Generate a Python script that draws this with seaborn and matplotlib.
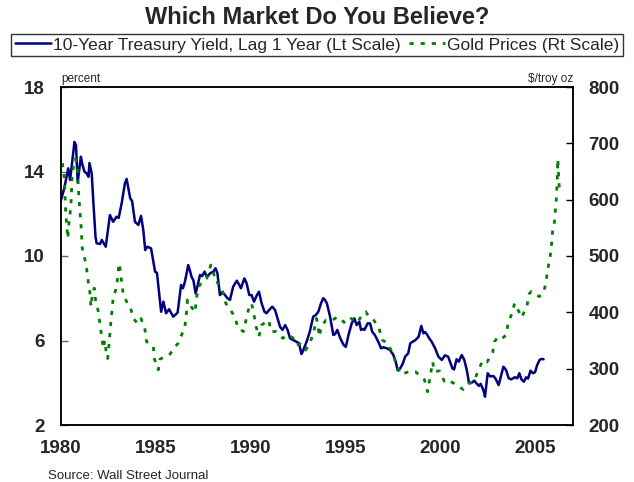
import numpy as np
import pandas as pd
import matplotlib
matplotlib.use('Agg')
import matplotlib.pyplot as plt
import seaborn as sns
from matplotlib.ticker import MultipleLocator

# 10-year treasury yield, lagged 1 year (percent, left scale)
yield_year = [
    1980.00, 1980.17, 1980.38, 1980.48, 1980.71, 1980.79, 1980.88, 1981.05, 1981.11, 1981.23,
    1981.36, 1981.45, 1981.50, 1981.62, 1981.70, 1981.82, 1981.88, 1982.06, 1982.15, 1982.36,
    1982.58, 1982.75, 1982.93, 1983.04, 1983.20, 1983.37, 1983.46, 1983.65, 1983.75, 1983.90,
    1984.08, 1984.22, 1984.34, 1984.44, 1984.56, 1984.75, 1984.96, 1985.06, 1985.28, 1985.40,
    1985.54, 1985.70, 1985.92, 1986.15, 1986.33, 1986.43, 1986.53, 1986.71, 1986.79, 1986.89,
    1986.98, 1987.10, 1987.19, 1987.33, 1987.44, 1987.57, 1987.70, 1987.86, 1988.03, 1988.15,
    1988.25, 1988.38, 1988.51, 1988.65, 1988.78, 1988.91, 1989.08, 1989.27, 1989.40, 1989.49,
    1989.67, 1989.79, 1989.93, 1990.05, 1990.18, 1990.33, 1990.44, 1990.58, 1990.73, 1990.84,
    1990.97, 1991.14, 1991.29, 1991.42, 1991.55, 1991.68, 1991.82, 1991.95, 1992.08, 1992.25,
    1992.42, 1992.55, 1992.68, 1992.75, 1992.95, 1993.12, 1993.30, 1993.43, 1993.57, 1993.71,
    1993.83, 1993.92, 1994.02, 1994.19, 1994.36, 1994.45, 1994.57, 1994.73, 1994.90, 1995.02,
    1995.16, 1995.33, 1995.47, 1995.59, 1995.73, 1995.82, 1995.94, 1996.00, 1996.17, 1996.30,
    1996.41, 1996.55, 1996.73, 1996.88, 1997.00, 1997.18, 1997.35, 1997.53, 1997.65, 1997.75,
    1997.89, 1998.03, 1998.15, 1998.31, 1998.42, 1998.54, 1998.69, 1998.86, 1999.00, 1999.11,
    1999.20, 1999.29, 1999.42, 1999.55, 1999.73, 1999.90, 2000.08, 2000.25, 2000.42, 2000.64,
    2000.73, 2000.86, 2000.98, 2001.13, 2001.26, 2001.40, 2001.52, 2001.66, 2001.79, 2001.91,
    2002.04, 2002.13, 2002.27, 2002.36, 2002.50, 2002.63, 2002.80, 2002.91, 2003.08, 2003.20,
    2003.33, 2003.47, 2003.61, 2003.74, 2003.93, 2004.06, 2004.17, 2004.28, 2004.41, 2004.53,
    2004.63, 2004.76, 2004.89, 2005.00, 2005.11, 2005.24, 2005.33, 2005.45,
]
yield_pct = [
    12.65, 13.20, 14.15, 13.60, 15.40, 15.25, 13.50, 14.70, 14.40, 14.00,
    13.90, 13.75, 14.40, 13.90, 12.65, 10.90, 10.60, 10.57, 10.76, 10.44,
    11.94, 11.62, 11.86, 11.80, 12.50, 13.44, 13.65, 12.73, 12.60, 11.62,
    11.47, 11.90, 11.23, 10.28, 10.44, 10.36, 9.26, 9.20, 7.36, 7.84,
    7.29, 7.48, 7.13, 7.32, 8.63, 8.47, 8.76, 9.57, 9.34, 9.00,
    8.86, 8.23, 8.55, 9.10, 9.05, 9.26, 9.00, 9.18, 9.26, 9.42,
    9.18, 8.15, 8.30, 8.15, 8.00, 7.92, 8.55, 8.83, 8.63, 8.47,
    8.94, 8.70, 8.15, 8.15, 7.84, 8.15, 8.31, 7.76, 7.36, 7.29,
    7.44, 7.60, 7.44, 7.05, 6.65, 6.50, 6.73, 6.50, 6.10, 6.02,
    5.94, 5.87, 5.36, 5.48, 5.94, 6.42, 7.13, 7.20, 7.36, 7.76,
    8.00, 7.92, 7.76, 7.13, 6.26, 6.30, 6.50, 6.10, 5.79, 5.70,
    6.26, 6.81, 7.05, 6.73, 6.89, 6.50, 6.55, 6.50, 6.81, 6.81,
    6.42, 6.26, 5.94, 5.63, 5.68, 5.63, 5.55, 5.31, 5.00, 4.60,
    4.68, 4.92, 5.24, 5.39, 5.87, 5.94, 6.02, 6.18, 6.69, 6.34,
    6.40, 6.30, 6.10, 5.94, 5.63, 5.24, 5.08, 5.30, 5.23, 4.68,
    4.63, 5.11, 5.00, 5.31, 5.10, 4.60, 3.97, 4.00, 4.10, 3.97,
    3.85, 3.95, 3.66, 3.34, 4.45, 4.30, 4.32, 4.20, 3.89, 4.30,
    4.76, 4.60, 4.21, 4.16, 4.26, 4.21, 4.45, 4.16, 4.05, 4.26,
    4.20, 4.57, 4.45, 4.50, 4.84, 5.08, 5.13, 5.11,
]

# gold price ($/troy oz, right scale)
gold_year = [
    1980.07, 1980.17, 1980.20, 1980.22, 1980.25, 1980.30, 1980.36, 1980.41, 1980.48, 1980.53,
    1980.58, 1980.65, 1980.77, 1980.88, 1980.91, 1980.95, 1981.00, 1981.05, 1981.09, 1981.12,
    1981.23, 1981.36, 1981.44, 1981.53, 1981.58, 1981.62, 1981.75, 1981.82, 1981.97, 1982.06,
    1982.15, 1982.23, 1982.31, 1982.41, 1982.46, 1982.53, 1982.58, 1982.63, 1982.70, 1982.75,
    1982.93, 1983.01, 1983.05, 1983.13, 1983.20, 1983.29, 1983.46, 1983.65, 1983.82, 1984.04,
    1984.22, 1984.43, 1984.51, 1984.87, 1984.92, 1985.13, 1985.22, 1985.48, 1985.75, 1986.01,
    1986.18, 1986.53, 1986.62, 1986.67, 1986.87, 1987.07, 1987.14, 1987.26, 1987.42, 1987.68,
    1987.90, 1988.03, 1988.12, 1988.30, 1988.51, 1988.69, 1989.00, 1989.17, 1989.34, 1989.62,
    1989.88, 1990.05, 1990.18, 1990.29, 1990.44, 1990.56, 1990.77, 1990.96, 1991.07, 1991.33,
    1991.69, 1991.98, 1992.25, 1992.42, 1992.60, 1992.90, 1993.13, 1993.35, 1993.48, 1993.55,
    1993.62, 1993.73, 1993.97, 1994.31, 1994.58, 1995.02, 1995.31, 1995.64, 1995.81, 1996.07,
    1996.25, 1996.47, 1996.76, 1996.94, 1997.23, 1997.50, 1997.69, 1997.90, 1998.39, 1998.68,
    1999.17, 1999.33, 1999.60, 1999.69, 1999.96, 2000.21, 2000.37, 2000.86, 2001.21, 2001.51,
    2001.77, 2002.00, 2002.24, 2002.47, 2002.76, 2002.86, 2003.00, 2003.18, 2003.48, 2003.57,
    2003.78, 2003.92, 2004.18, 2004.29, 2004.57, 2004.69, 2004.81, 2005.04, 2005.22, 2005.45,
    2005.58, 2005.66, 2005.80, 2005.87, 2005.92, 2006.02, 2006.08, 2006.13, 2006.17, 2006.20,
    2006.23, 2006.27, 2006.33,
]
gold_usd = [
    665, 641, 620, 600, 576, 555, 531, 555, 576, 596,
    638, 658, 673, 650, 623, 600, 579, 558, 534, 514,
    499, 475, 454, 434, 410, 423, 443, 422, 401, 377,
    357, 336, 350, 321, 318, 342, 363, 383, 407, 425,
    445, 469, 487, 475, 452, 431, 419, 410, 389, 380,
    389, 369, 348, 339, 318, 298, 317, 321, 326, 339,
    345, 374, 401, 422, 410, 400, 425, 445, 454, 460,
    484, 475, 454, 452, 437, 416, 401, 391, 372, 366,
    404, 416, 395, 374, 357, 377, 382, 386, 366, 366,
    354, 360, 354, 342, 344, 333, 345, 369, 389, 375,
    357, 375, 386, 386, 392, 380, 389, 382, 392, 401,
    392, 387, 373, 351, 345, 326, 307, 290, 295, 295,
    280, 259, 312, 295, 296, 278, 281, 271, 263, 274,
    277, 296, 315, 312, 328, 348, 354, 351, 360, 380,
    398, 416, 399, 391, 411, 433, 437, 431, 428, 435,
    454, 475, 500, 522, 543, 561, 585, 605, 640, 672,
    650, 625, 610,
]

year_ticks = [1980, 1985, 1990, 1995, 2000, 2005]
left_ticks = [2, 6, 10, 14, 18]
right_ticks = [200, 300, 400, 500, 600, 700, 800]

yield_df = pd.DataFrame({'year': yield_year, 'pct': yield_pct})
gold_df = pd.DataFrame({'year': gold_year, 'usd': gold_usd})

sns.set_theme(style='white')
plt.rcParams['font.family'] = ['Liberation Sans', 'DejaVu Sans']

fig = plt.figure(figsize=(6.34, 4.82), dpi=100)
ax = fig.add_axes([61 / 634, 1 - 425 / 482, 512 / 634, 338 / 482])
ax2 = ax.twinx()

sns.lineplot(data=yield_df, x='year', y='pct', ax=ax, color='#000080', linewidth=1.8,
             label='10-Year Treasury Yield, Lag 1 Year (Lt Scale)', legend=False)
sns.lineplot(data=gold_df, x='year', y='usd', ax=ax2, color='#008000', linewidth=2.0,
             linestyle=(0, (1.5, 2.5)), label='Gold Prices (Rt Scale)', legend=False)

ax.set_xlim(1980, 2007)
ax.set_ylim(2, 18)
ax2.set_ylim(200, 800)
ax.set_xticks(year_ticks)
ax.set_xticklabels([str(y) for y in year_ticks])
ax.xaxis.set_minor_locator(MultipleLocator(1))
ax.set_yticks(left_ticks)
ax2.set_yticks(right_ticks)
ax.set_xlabel('')
ax.set_ylabel('')
ax2.set_ylabel('')

for a in (ax, ax2):
    for s in a.spines.values():
        s.set_color('black')
        s.set_linewidth(1.1)
ax.tick_params(axis='x', which='both', direction='in', length=5, width=1, color='black',
               pad=11, labelsize=13.5)
ax.tick_params(axis='y', direction='in', length=5, width=1, color='#666666', pad=12, labelsize=13.5)
ax2.tick_params(axis='y', direction='in', length=5, width=1, color='black', pad=11, labelsize=13.5)
for lab in ax.get_xticklabels() + ax.get_yticklabels() + ax2.get_yticklabels():
    lab.set_fontweight('bold')

fig.text(0.5, 1 - 17 / 482, 'Which Market Do You Believe?', ha='center', va='center',
         fontsize=17, fontweight='bold')
ax.text(0.0, 1.005, 'percent', transform=ax.transAxes, ha='left', va='bottom', fontsize=8.5)
ax.text(1.0, 1.005, '$/troy oz', transform=ax.transAxes, ha='right', va='bottom', fontsize=8.5)
fig.text(48 / 634, 1 - 476 / 482, 'Source: Wall Street Journal', ha='left', va='center', fontsize=9.5)

h1, l1 = ax.get_legend_handles_labels()
h2, l2 = ax2.get_legend_handles_labels()
leg = fig.legend(h1 + h2, l1 + l2, loc='center', bbox_to_anchor=(317 / 634, 1 - 45 / 482), ncol=2,
                 fontsize=12.5, frameon=True, fancybox=False, handlelength=2.1,
                 handletextpad=0.12, columnspacing=0.45, borderpad=0.2, borderaxespad=0)
leg.get_frame().set_edgecolor('black')
leg.get_frame().set_linewidth(1.0)

fig.savefig('out.png', dpi=100)
